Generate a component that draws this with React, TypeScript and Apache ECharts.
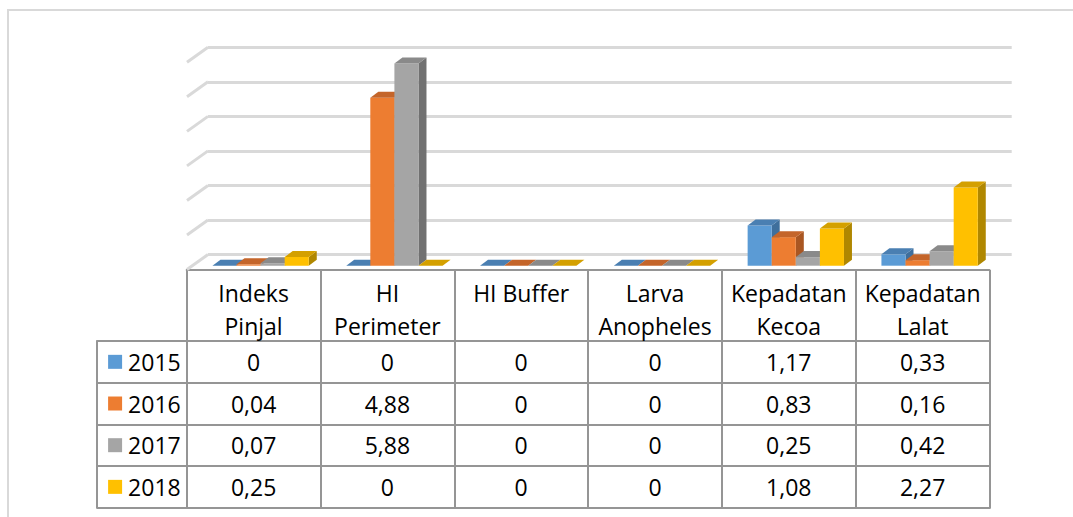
import React, { useEffect, useRef } from 'react';
import * as echarts from 'echarts';

const categories = ['Indeks Pinjal', 'HI Perimeter', 'HI Buffer', 'Larva Anopheles', 'Kepadatan Kecoa', 'Kepadatan Lalat'];
const headerLabels = ['Indeks\nPinjal', 'HI\nPerimeter', 'HI Buffer', 'Larva\nAnopheles', 'Kepadatan\nKecoa', 'Kepadatan\nLalat'];
const years = ['2015', '2016', '2017', '2018'];
const values2015 = [0, 0, 0, 0, 1.17, 0.33];
const values2016 = [0.04, 4.88, 0, 0, 0.83, 0.16];
const values2017 = [0.07, 5.88, 0, 0, 0.25, 0.42];
const values2018 = [0.25, 0, 0, 0, 1.08, 2.27];
const seriesValues = [values2015, values2016, values2017, values2018];
const gridLevels = [0, 1, 2, 3, 4, 5, 6];

const frontColors = ['#5b9bd5', '#ed7d31', '#a5a5a5', '#ffc000'];
const topColors = ['#4a7fb2', '#c4652a', '#8a8a8a', '#d4a000'];
const sideColors = ['#3f6f9c', '#a95622', '#717171', '#b08700'];

const FONT = '"Open Sans", "DejaVu Sans", sans-serif';
const FS = 23;
const BORDER = '#959595';
const GRIDLINE = '#d9d9d9';

const fmt = (v: number) => (v === 0 ? '0' : v.toFixed(2).replace('.', ','));

const makeBar = (i: number) => (params: any, api: any) => {
  const cat = api.value(0);
  const v = api.value(1);
  const top = api.coord([cat, v]);
  const base = api.coord([cat, 0]);
  const band = api.size([1, 0])[0];
  const w = band * 0.18;
  const x0 = top[0] + (i - 2) * w;
  const x1 = x0 + w;
  const yt = top[1];
  const yb = base[1];
  const dx = 8;
  const dy = 6;
  return {
    type: 'group',
    children: [
      {
        type: 'polygon',
        shape: { points: [[x1, yb], [x1, yt], [x1 + dx, yt - dy], [x1 + dx, yb - dy]] },
        style: { fill: sideColors[i] },
      },
      {
        type: 'rect',
        shape: { x: x0, y: yt, width: w, height: Math.max(0, yb - yt) },
        style: { fill: frontColors[i] },
      },
      {
        type: 'polygon',
        shape: { points: [[x0, yt], [x1, yt], [x1 + dx, yt - dy], [x0 + dx, yt - dy]] },
        style: { fill: topColors[i] },
      },
    ],
  };
};

export default function App() {
  const ref = useRef<HTMLDivElement>(null);

  useEffect(() => {
    if (!ref.current) return;
    const chart = echarts.init(ref.current, undefined, { renderer: 'svg' });

    const tableData: number[][] = [];
    years.forEach((_, yi) => {
      categories.forEach((_, ci) => {
        tableData.push([ci, yi, seriesValues[yi][ci]]);
      });
    });

    const rich: any = {
      t: { fontSize: FS, fontFamily: FONT, color: '#000', padding: [0, 0, 0, 6] },
    };
    frontColors.forEach((c, i) => {
      rich['s' + i] = { width: 14, height: 14, backgroundColor: c };
    });

    const lineStyle = { color: BORDER, width: 2 };

    const option: any = {
      animation: false,
      backgroundColor: '#ffffff',
      graphic: [
        {
          type: 'rect',
          shape: { x: 8, y: 10, width: 1100, height: 600 },
          style: { fill: 'none', stroke: '#d9d9d9', lineWidth: 2 },
          z: -10,
        },
      ],
      grid: [
        { left: 208, right: 61.3, top: 47.3, bottom: 262.5 },
        { left: 193.7, right: 76.5, top: 59.3, bottom: 251.3 },
        { left: 186.7, right: 83.5, top: 341, bottom: 9.3 },
      ],
      xAxis: [
        { gridIndex: 0, type: 'value', min: 0, max: 1, show: false },
        { gridIndex: 1, type: 'category', data: categories, show: false },
        {
          gridIndex: 2,
          type: 'category',
          data: headerLabels,
          position: 'top',
          axisLine: { show: true, lineStyle },
          axisTick: { show: true, interval: 0, length: 71, inside: false, lineStyle },
          axisLabel: {
            interval: 0,
            margin: 65,
            verticalAlign: 'top',
            fontSize: FS,
            lineHeight: 33,
            fontFamily: FONT,
            color: '#000',
          },
          splitLine: { show: true, interval: 0, lineStyle },
        },
        {
          gridIndex: 2,
          type: 'category',
          data: categories,
          position: 'top',
          offset: 71,
          axisLine: { show: true, lineStyle },
          axisTick: { show: false },
          axisLabel: { show: false },
        },
        {
          gridIndex: 2,
          type: 'category',
          data: categories,
          position: 'bottom',
          axisLine: { show: true, lineStyle },
          axisTick: { show: false },
          axisLabel: { show: false },
        },
      ],
      yAxis: [
        {
          gridIndex: 0,
          type: 'value',
          min: 0,
          max: 6,
          interval: 1,
          axisLine: { show: false },
          axisTick: { show: false },
          axisLabel: { show: false },
          splitLine: { show: true, lineStyle: { color: GRIDLINE, width: 3 } },
        },
        { gridIndex: 1, type: 'value', min: 0, max: 6, show: false },
        {
          gridIndex: 2,
          type: 'category',
          data: years,
          inverse: true,
          position: 'left',
          axisLine: { show: true, lineStyle },
          axisTick: { show: true, interval: 0, length: 90, inside: false, lineStyle },
          axisLabel: {
            interval: 0,
            margin: 6,
            formatter: (val: string, idx: number) => `{s${idx}|}{t|${val}}`,
            rich,
          },
          splitLine: { show: true, interval: 0, lineStyle },
        },
        {
          gridIndex: 2,
          type: 'category',
          data: years,
          inverse: true,
          position: 'left',
          offset: 90,
          axisLine: { show: true, lineStyle },
          axisTick: { show: false },
          axisLabel: { show: false },
        },
        {
          gridIndex: 2,
          type: 'category',
          data: years,
          inverse: true,
          position: 'right',
          axisLine: { show: true, lineStyle },
          axisTick: { show: false },
          axisLabel: { show: false },
        },
      ],
      series: [
        {
          type: 'custom',
          xAxisIndex: 0,
          yAxisIndex: 0,
          silent: true,
          z: 1,
          data: gridLevels.map((v) => [0, v]),
          encode: { x: 0, y: 1 },
          renderItem: (params: any, api: any) => {
            const p = api.coord([0, api.value(1)]);
            return {
              type: 'line',
              shape: { x1: p[0] - 21, y1: p[1] + 15, x2: p[0], y2: p[1] },
              style: { stroke: GRIDLINE, lineWidth: 3 },
            };
          },
        },
        ...seriesValues.map((vals, i) => ({
          type: 'custom',
          name: years[i],
          xAxisIndex: 1,
          yAxisIndex: 1,
          z: 5,
          data: vals.map((v, ci) => [ci, v]),
          encode: { x: 0, y: 1 },
          renderItem: makeBar(i),
        })),
        {
          type: 'custom',
          xAxisIndex: 2,
          yAxisIndex: 2,
          z: 6,
          data: tableData,
          encode: { x: 0, y: 1 },
          renderItem: (params: any, api: any) => {
            const p = api.coord([api.value(0), api.value(1)]);
            return {
              type: 'text',
              x: p[0],
              y: p[1],
              style: {
                text: fmt(api.value(2)),
                fill: '#000',
                fontSize: FS,
                fontFamily: FONT,
                align: 'center',
                verticalAlign: 'middle',
              },
            };
          },
        },
      ],
    };

    chart.setOption(option);
    return () => chart.dispose();
  }, []);

  return (
    <div
      ref={ref}
      style={{ position: 'fixed', left: 0, top: 0, width: 1073, height: 517, background: '#fff' }}
    />
  );
}
